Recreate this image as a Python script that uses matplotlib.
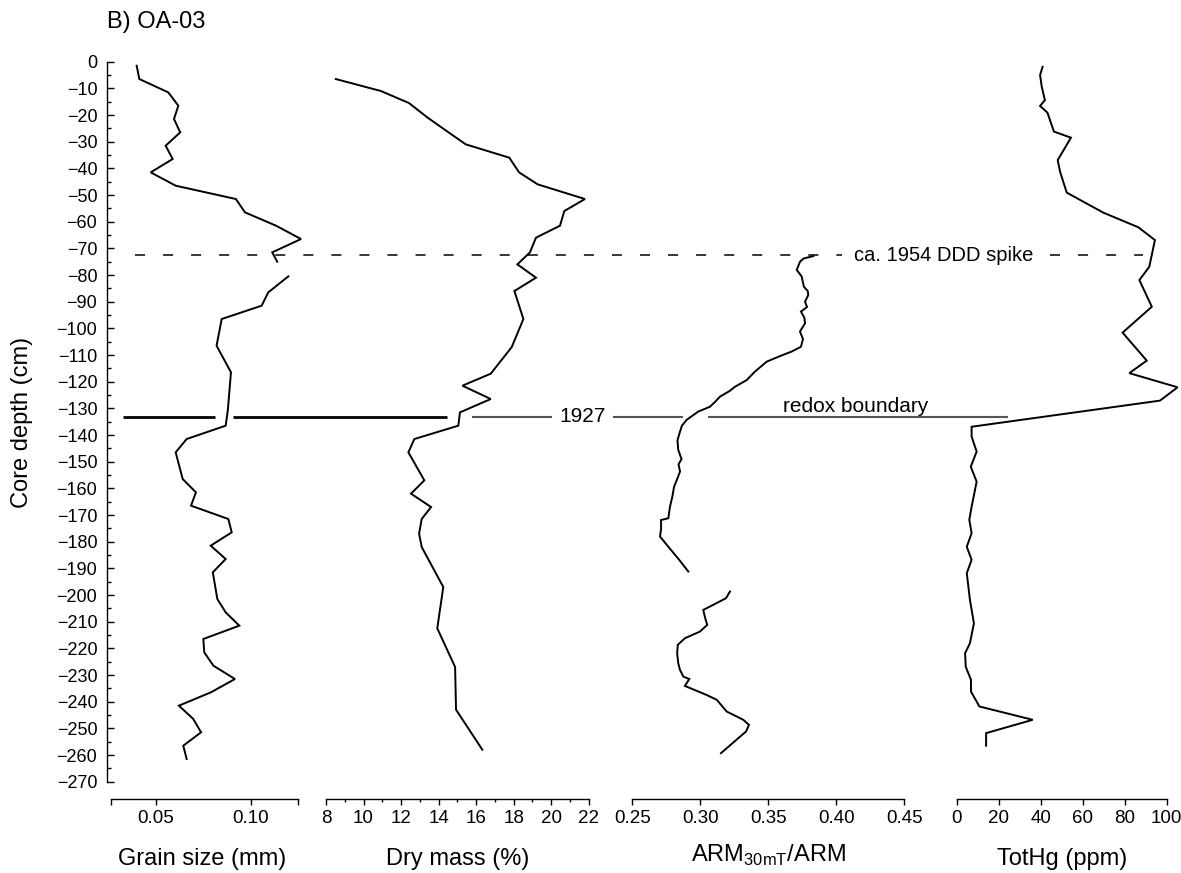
import numpy as np
import matplotlib
matplotlib.use("Agg")
import matplotlib.pyplot as plt
from matplotlib.ticker import FixedLocator

plt.rcParams['font.family'] = ['Liberation Sans', 'DejaVu Sans']
plt.rcParams['lines.scale_dashes'] = False

nan = np.nan

# grain size (mm)
grain_depth = [1.5, 6.5, 11.5, 16.5, 21.5, 26.5, 31.5, 36.5, 41.5, 46.5, 51.5, 56.5,
               61.5, 66.5, 71.5, 75.0, nan, 80.5, 86.5, 91.5, 96.5, 106.5, 116.5, 131.0,
               136.5, 141.5, 146.5, 156.5, 161.5, 166.5, 171.5, 176.5, 181.5, 186.5,
               191.5, 201.5, 206.5, 211.5, 216.5, 221.5, 226.5, 231.5, 236.5, 241.5,
               246.5, 251.5, 256.5, 261.5]
grain_mm = [0.0398, 0.0412, 0.0565, 0.0618, 0.0595, 0.0628, 0.0551, 0.0588, 0.0472,
            0.0604, 0.0922, 0.0970, 0.1134, 0.1266, 0.1114, 0.1140, nan, 0.1199, 0.1093,
            0.1058, 0.0847, 0.0820, 0.0896, 0.0879, 0.0868, 0.0662, 0.0604, 0.0641,
            0.0711, 0.0685, 0.0882, 0.0900, 0.0789, 0.0868, 0.0800, 0.0824, 0.0868,
            0.0940, 0.0750, 0.0755, 0.0803, 0.0917, 0.0790, 0.0621, 0.0697, 0.0738,
            0.0644, 0.0662]

# dry mass (%)
dry_depth = [6.5, 11.0, 15.5, 21.0, 26.0, 31.0, 36.0, 41.5, 46.0, 51.5, 56.0, 61.5,
             66.0, 71.5, 76.0, 81.0, 86.0, 96.5, 107.0, 117.0, 121.5, 126.5, 131.5,
             136.5, 141.5, 146.5, 157.0, 162.0, 167.0, 171.5, 177.0, 182.0, 197.0,
             212.5, 227.0, 243.0, 258.0]
dry_pct = [8.52, 10.93, 12.42, 13.42, 14.43, 15.45, 17.77, 18.29, 19.28, 21.80, 20.70,
           20.47, 19.19, 18.87, 18.20, 19.19, 18.04, 18.52, 17.90, 16.78, 15.27, 16.78,
           15.14, 15.05, 12.71, 12.39, 13.24, 12.53, 13.60, 13.10, 12.96, 13.10, 14.25,
           13.93, 14.88, 14.93, 16.33]

# ARM30mT/ARM ratio
arm_depth = [72.9, 73.8, 75.0, 78.1, 80.5, 84.4, 86.0, 87.5, 90.0, 92.0, 93.7, 96.0,
             98.1, 101.2, 104.0, 106.9, 108.7, 110.4, 112.5, 116.2, 119.4, 121.9,
             123.5, 125.6, 127.5, 129.4, 131.2, 134.3, 136.5, 138.7, 142.0, 145.6,
             149.0, 151.0, 153.7, 156.5, 159.4, 163.0, 166.9, 171.2, 171.9, 175.0,
             178.1, 181.9, 186.5, 191.2, nan,
             198.7, 201.2, 205.6, 208.5, 211.2, 213.7, 216.2, 218.7, 222.0, 225.6,
             228.0, 230.6, 231.5, 234.1, 237.5, 239.3, 243.7, 246.8, 248.7, 251.2,
             259.3]
arm_ratio = [0.3831, 0.3760, 0.3733, 0.3709, 0.3745, 0.3762, 0.3790, 0.3794, 0.3770,
             0.3785, 0.3740, 0.3765, 0.3770, 0.3733, 0.3755, 0.3740, 0.3672, 0.3586,
             0.3488, 0.3402, 0.3341, 0.3255, 0.3215, 0.3145, 0.3110, 0.3071, 0.2985,
             0.2900, 0.2865, 0.2851, 0.2832, 0.2838, 0.2862, 0.2840, 0.2851, 0.2830,
             0.2807, 0.2795, 0.2777, 0.2765, 0.2711, 0.2712, 0.2704, 0.2765, 0.2840,
             0.2912, nan,
             0.3218, 0.3189, 0.3022, 0.3035, 0.3051, 0.2998, 0.2887, 0.2834, 0.2830,
             0.2838, 0.2850, 0.2875, 0.2919, 0.2887, 0.3047, 0.3121, 0.3194, 0.3316,
             0.3358, 0.3336, 0.3152]

# total mercury (ppm)
hg_depth = [1.9, 5.0, 9.4, 14.4, 16.6, 19.1, 26.2, 28.5, 36.9, 41.2, 49.1, 56.6, 62.1,
            66.9, 76.9, 81.9, 91.9, 101.6, 112.1, 116.8, 122.1, 127.1, 136.9, 140.6,
            146.2, 151.9, 157.5, 166.9, 171.8, 176.8, 181.9, 186.8, 191.8, 201.8, 210.6,
            218.1, 221.8, 226.9, 231.8, 236.2, 241.8, 246.8, 251.8, 256.5]
hg_ppm = [40.9, 39.7, 40.5, 42.0, 39.7, 43.2, 46.3, 54.4, 48.1, 49.2, 52.4, 69.8, 86.5,
          94.4, 91.7, 87.0, 92.9, 79.0, 90.5, 82.2, 105.2, 96.8, 7.1, 7.1, 9.5, 6.7, 9.5,
          7.1, 6.0, 7.1, 4.8, 7.1, 4.8, 6.3, 8.2, 6.3, 4.0, 4.3, 6.8, 6.8, 10.8, 36.2,
          14.0, 14.0]

# dated horizons (cm)
ddd_spike_depth = 72.5
horizon_1927_depth = 133.1

W, H = 1181, 873
fig = plt.figure(figsize=(W / 100, H / 100), dpi=100)

bottom = (H - 799) / H
height = (799 - 61.7) / H
ylim = (-276.5, 0)


def panel(left_px, right_px, xlim):
    ax = fig.add_axes([left_px / W, bottom, (right_px - left_px) / W, height])
    ax.set_xlim(*xlim)
    ax.set_ylim(*ylim)
    for s in ('top', 'right', 'left'):
        ax.spines[s].set_visible(False)
    ax.spines['bottom'].set_linewidth(1.0)
    ax.tick_params(axis='x', direction='out', length=4, width=1.0,
                   labelsize=13.5, pad=4)
    ax.tick_params(axis='x', which='minor', direction='out', length=2, width=1.0)
    ax.tick_params(axis='y', left=False, labelleft=False)
    ax.xaxis.label.set_size(17)
    ax.patch.set_visible(False)
    return ax


ax_g = panel(107, 298, (0.02413, 0.125))
ax_d = panel(326, 588.7, (8, 22))
ax_a = panel(632.3, 904.3, (0.25, 0.45))
ax_h = panel(956.7, 1166.7, (0, 100))

line_kw = dict(color='black', lw=1.4, clip_on=False, solid_joinstyle='miter')
ax_g.plot(grain_mm, -np.array(grain_depth), **line_kw)
ax_d.plot(dry_pct, -np.array(dry_depth), **line_kw)
ax_a.plot(arm_ratio, -np.array(arm_depth), **line_kw)
ax_h.plot(hg_ppm, -np.array(hg_depth), **line_kw)

# depth axis on the first panel
ax_g.spines['left'].set_visible(True)
ax_g.spines['left'].set_linewidth(1.0)
ax_g.spines['left'].set_bounds(-270, 0)
ax_g.spines['bottom'].set_bounds(0.0262, 0.125)
ax_g.set_yticks(np.arange(-270, 1, 10))
ax_g.yaxis.set_minor_locator(FixedLocator(np.arange(-265, 0, 10)))
ax_g.tick_params(axis='y', left=True, labelleft=True, direction='in',
                 length=5, width=1.0, labelsize=13, pad=7)
ax_g.tick_params(axis='y', which='minor', left=True, direction='in',
                 length=3, width=1.0)
ax_g.set_ylabel('Core depth (cm)', fontsize=17)
ax_g.yaxis.set_label_coords((33 - 107) / 191, (799 - 422) / 737.3)

ax_g.set_xticks([0.0262, 0.05, 0.10, 0.125])
ax_g.set_xticklabels(['', '0.05', '0.10', ''])
ax_d.set_xticks(np.arange(8, 23, 2))
ax_d.xaxis.set_minor_locator(FixedLocator(np.arange(9, 22, 2)))
ax_a.set_xticks([0.25, 0.30, 0.35, 0.40, 0.45])
ax_a.set_xticklabels(['0.25', '0.30', '0.35', '0.40', '0.45'])
ax_h.set_xticks(np.arange(0, 101, 20))

ax_g.set_xlabel('Grain size (mm)', labelpad=15)
ax_d.set_xlabel('Dry mass (%)', labelpad=15)
ax_a.set_xlabel(r'ARM$_{\mathregular{30mT}}$/ARM', labelpad=11)
ax_h.set_xlabel('TotHg (ppm)', labelpad=15)

fig.text(107 / W, 1 - 22 / H, 'B) OA-03', fontsize=17, ha='left', va='center')

# horizon lines across all panels, x in pixels
ov = fig.add_axes([0, bottom, 1, height])
ov.set_xlim(0, W)
ov.set_ylim(*ylim)
ov.axis('off')

y54 = -ddd_spike_depth
for x0, x1 in [(135, 842), (1050, 1143)]:
    ov.plot([x0, x1], [y54, y54], color='black', lw=1.1, dashes=(7.2, 13))
ov.text(854, y54, 'ca. 1954 DDD spike', fontsize=14.5, ha='left', va='center')

y27 = -horizon_1927_depth
for x0, x1 in [(123, 215), (233, 447)]:
    ov.plot([x0, x1], [y27, y27], color='black', lw=2.0, solid_capstyle='butt')
for x0, x1 in [(472, 552), (613, 683), (708, 1008)]:
    ov.plot([x0, x1], [y27, y27], color='#555555', lw=1.5, solid_capstyle='butt')
ov.text(583, y27, '1927', fontsize=15, ha='center', va='center')
ov.text(856, y27 + 1.8, 'redox boundary', fontsize=15, ha='center', va='baseline')

fig.savefig('out.png', dpi=100)
